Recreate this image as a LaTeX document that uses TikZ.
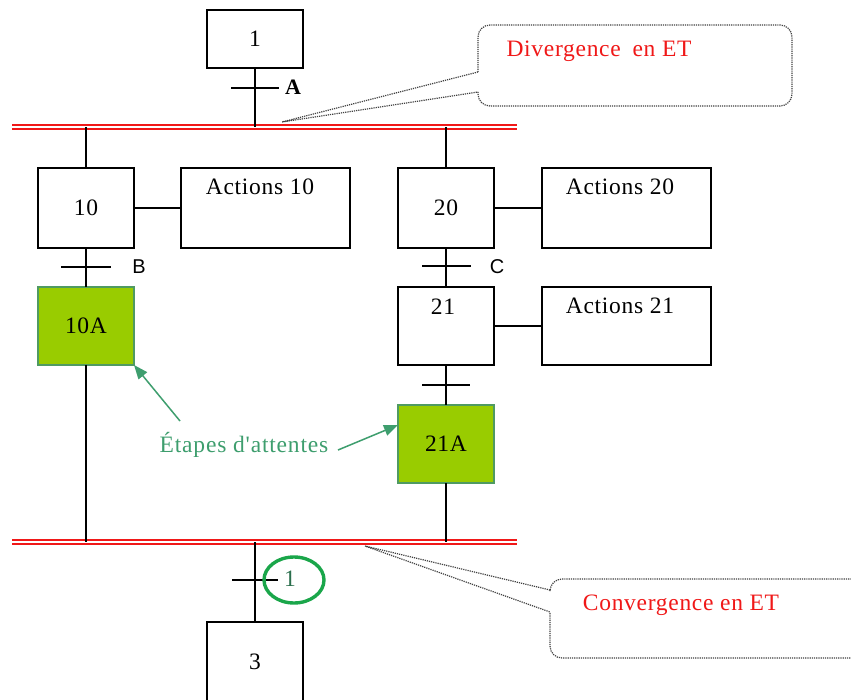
\documentclass[tikz,border=0pt]{standalone}
\usepackage{fontspec}
\setmainfont{Liberation Serif}[LetterSpace=3]
\newfontfamily\notefont{Liberation Serif}[LetterSpace=3.5, Ligatures=TeXOff]
\newfontfamily\labelsans{Liberation Sans}
\usetikzlibrary{arrows.meta}
\definecolor{waitgreen}{HTML}{99CC00}
\definecolor{waitborder}{HTML}{4F9A62}
\definecolor{notegreen}{HTML}{3E9E6E}
\definecolor{ringgreen}{HTML}{1AA64A}
\definecolor{barred}{HTML}{F01818}
\tikzset{
  x=1pt, y=-1pt,
  every node/.style={inner sep=0pt, outer sep=0pt},
  txt/.style={font=\fontsize{23.5}{26}\selectfont},
  stepbox/.style={draw, line width=1.6pt, minimum width=96pt, minimum height=80pt, txt},
  actbox/.style={draw, line width=1.6pt, minimum width=169pt, minimum height=80pt},
  waitbox/.style={draw=waitborder, fill=waitgreen, line width=1.3pt, minimum width=96pt, minimum height=78pt, txt},
  link/.style={line width=1.6pt},
  tick/.style={line width=1.6pt},
  bar/.style={draw=barred, line width=1.8pt},
  callout/.style={draw=black!75, line width=1.2pt, densely dotted},
  redtxt/.style={txt, text=barred},
  pointer/.style={draw=notegreen, line width=1.5pt, -{Triangle[length=14pt,width=11pt]}},
}
\begin{document}
\begin{tikzpicture}
\useasboundingbox[fill=white] (0,0) rectangle (851,700);

% steps
\node[stepbox, minimum height=58pt] (s1) at (255,39) {1};
\node[stepbox] (s10) at (86,208) {10};
\node[actbox] (a10) at (265.5,208) {};
\node[txt, anchor=north] (a10t) at (260,179) {Actions 10};
\node[stepbox] (s20) at (446,208) {20};
\node[actbox] (a20) at (626.5,208) {};
\node[txt, anchor=north] (a20t) at (620,179) {Actions 20};
\node[stepbox, minimum height=78pt] (s21) at (446,326) {};
\node[txt, anchor=north] (s21t) at (443,299) {21};
\node[actbox, minimum height=78pt] (a21) at (626.5,326) {};
\node[txt, anchor=north] (a21t) at (620,298) {Actions 21};
\node[waitbox] (w10) at (86,326) {10A};
\node[waitbox] (w21) at (446,444) {21A};
\node[stepbox] (s3) at (255,662) {3};

% double bars of the AND divergence / convergence
\coordinate (topL) at (12,127);
\coordinate (topR) at (517,127);
\coordinate (botL) at (12,542);
\coordinate (botR) at (517,542);
\draw[bar] ([yshift=2pt]topL) -- ([yshift=2pt]topR);
\draw[bar] ([yshift=-2pt]topL) -- ([yshift=-2pt]topR);
\draw[bar] ([yshift=2pt]botL) -- ([yshift=2pt]botR);
\draw[bar] ([yshift=-2pt]botL) -- ([yshift=-2pt]botR);

% links
\coordinate (j1) at (255,127);
\coordinate (j10) at (86,127);
\coordinate (j20) at (446,127);
\coordinate (k10) at (86,542);
\coordinate (k21) at (446,542);
\coordinate (k3) at (255,542);
\draw[link] (s1.south) -- (j1);
\draw[link] (j10) -- (s10.north);
\draw[link] (j20) -- (s20.north);
\draw[link] (s10.east) -- (a10.west);
\draw[link] (s20.east) -- (a20.west);
\draw[link] (s21.east) -- (a21.west);
\draw[link] (s10.south) -- (w10.north);
\draw[link] (s20.south) -- (s21.north);
\draw[link] (s21.south) -- (w21.north);
\draw[link] (w10.south) -- (k10);
\draw[link] (w21.south) -- (k21);
\draw[link] (k3) -- (s3.north);

% transitions
\draw[tick] (231,88) -- (279,88);
\node[txt, font=\fontsize{22}{24}\selectfont\bfseries] (tA) at (293,87) {A};
\draw[tick] (61,267) -- (111,267);
\node[font=\labelsans\fontsize{20}{22}\selectfont] (tB) at (139,267) {B};
\draw[tick] (422,266) -- (471,266);
\node[font=\labelsans\fontsize{20}{22}\selectfont] (tC) at (497,267) {C};
\draw[tick] (422,385) -- (470,385);
\draw[tick] (232,580) -- (278,580);
\node[txt, text=notegreen!70!black] (t1) at (290,579) {1};
\draw[ringgreen, line width=3.4pt] (294,580) ellipse [x radius=30, y radius=23];

% waiting-steps note
\node[font=\notefont\fontsize{23.5}{26}\selectfont, text=notegreen] (wait) at (244,445) {Étapes d'attentes};
\coordinate (p10) at (180,421);
\coordinate (p21) at (338,450);
\draw[pointer] (p10) -- (w10.south east);
\draw[pointer] (p21) -- (398,425);

% callouts
\draw[callout, rounded corners=12] (478,72) -- (478,25) -- (792,25) -- (792,106) -- (478,106) -- (478,92);
\draw[callout] (478,72) -- (282,122) -- (478,92);
\node[redtxt] (div) at (599,51) {Divergence\enspace en ET};
\draw[callout, rounded corners=12] (550,590) -- (550,579) -- (870,579) -- (870,658) -- (550,658) -- (550,612);
\draw[callout] (550,590) -- (365,546) -- (550,612);
\node[redtxt] (conv) at (681,605) {Convergence en ET};
\end{tikzpicture}
\end{document}
